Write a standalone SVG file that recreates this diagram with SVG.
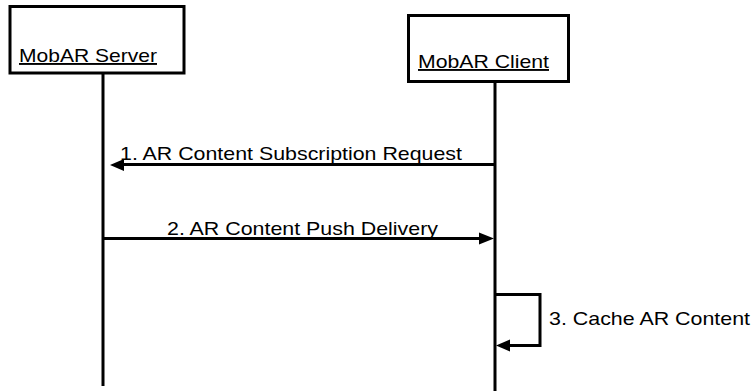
<svg xmlns="http://www.w3.org/2000/svg" width="752" height="391" viewBox="0 0 752 391">
<style>
  .box { fill: #ffffff; stroke: #000000; stroke-width: 3; }
  .life { stroke: #000000; stroke-width: 3; fill: none; }
  .msg { stroke: #000000; stroke-width: 3; fill: none; }
  .head { fill: #000000; stroke: none; }
  text { font-family: "Liberation Sans", Arial, sans-serif; font-size: 19px; fill: #000000; }
  .u { text-decoration: underline; }
</style>
<rect x="0" y="0" width="752" height="391" fill="#ffffff"/>
<g id="server">
  <rect class="box" x="10" y="6.5" width="174" height="66.5"/>
  <text class="u" x="19" y="62" textLength="138" lengthAdjust="spacingAndGlyphs">MobAR Server</text>
  <line class="life" x1="103" y1="73" x2="103" y2="386"/>
</g>
<g id="client">
  <rect class="box" x="408.5" y="15.5" width="160" height="66"/>
  <text class="u" x="418" y="68" textLength="131" lengthAdjust="spacingAndGlyphs">MobAR Client</text>
  <line class="life" x1="495" y1="81.5" x2="495" y2="391"/>
</g>
<g id="connectors">
  <g id="m1">
    <line class="msg" x1="495" y1="164.5" x2="122" y2="164.5"/>
    <polygon class="head" points="110,165 124,159 124,171"/>
    <text x="120" y="160" textLength="342" lengthAdjust="spacingAndGlyphs">1. AR Content Subscription Request</text>
  </g>
  <g id="m2">
    <line class="msg" x1="103" y1="238.5" x2="482" y2="238.5"/>
    <polygon class="head" points="494,238.5 479,232.5 479,244.5"/>
    <text x="167" y="235" textLength="271" lengthAdjust="spacingAndGlyphs">2. AR Content Push Delivery</text>
  </g>
  <g id="m3">
    <polyline class="msg" points="495,294.5 540,294.5 540,345.5 508,345.5"/>
    <polygon class="head" points="496,345.5 510,339.5 510,351.5"/>
    <text x="549" y="325" textLength="201" lengthAdjust="spacingAndGlyphs">3. Cache AR Content</text>
  </g>
</g>
</svg>
